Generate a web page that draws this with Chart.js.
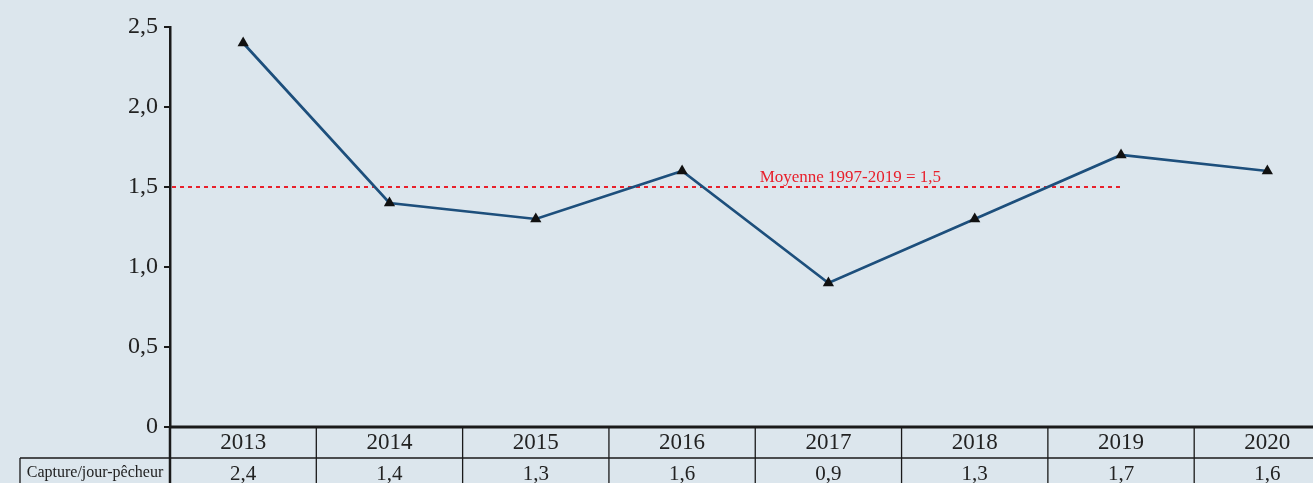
<!DOCTYPE html>
<html lang="fr">
<head>
<meta charset="utf-8">
<title>Capture par jour-pêcheur</title>
<script src="https://cdn.jsdelivr.net/npm/chart.js@4/dist/chart.umd.min.js"></script>
<style>
    html, body { margin: 0; padding: 0; background: #dce6ed; overflow: hidden; }
    #boite { width: 1347px; height: 483px; position: relative; }
</style>
</head>
<body>
<div id="boite"><canvas id="captureChart"></canvas></div>
<script>
// données
const annees = ["2013", "2014", "2015", "2016", "2017", "2018", "2019", "2020"];
const captures = [2.4, 1.4, 1.3, 1.6, 0.9, 1.3, 1.7, 1.6];
const moyenne = 1.5;
const moyenneTexte = "Moyenne 1997-2019 = 1,5";
const moyenneFin = "2019";
const ligneTableau = "Capture/jour-pêcheur";
const yMax = 2.5;
const yPas = 0.5;

const POLICE = "'Liberation Serif', 'Times New Roman', serif";

function virgule(v) {
    return v === 0 ? "0" : v.toFixed(1).replace(".", ",");
}

// ligne moyenne pointillée + texte rouge
const pluginMoyenne = {
    id: "moyenne",
    beforeDatasetsDraw(chart) {
        const ctx = chart.ctx;
        const x = chart.scales.x, y = chart.scales.y;
        const yy = y.getPixelForValue(moyenne);
        ctx.save();
        ctx.strokeStyle = "#e8202c";
        ctx.lineWidth = 2;
        ctx.setLineDash([4, 4]);
        ctx.beginPath();
        ctx.moveTo(chart.chartArea.left + 2, yy);
        ctx.lineTo(x.getPixelForValue(annees.indexOf(moyenneFin)), yy);
        ctx.stroke();
        ctx.setLineDash([]);
        ctx.fillStyle = "#e8202c";
        ctx.font = "17px " + POLICE;
        ctx.textAlign = "center";
        ctx.textBaseline = "alphabetic";
        ctx.fillText(moyenneTexte, x.getPixelForValue(4.15), yy - 5);
        ctx.restore();
    }
};

// tableau sous l'axe des x
const pluginTableau = {
    id: "tableau",
    afterDraw(chart) {
        const ctx = chart.ctx;
        const x = chart.scales.x;
        const area = chart.chartArea;
        const bas = chart.height;
        const pas = x.getPixelForValue(1) - x.getPixelForValue(0);
        const ligne2 = area.bottom + 31;
        ctx.save();
        ctx.strokeStyle = "#1a1a1a";

        // axe des x épais
        ctx.lineWidth = 3;
        ctx.beginPath();
        ctx.moveTo(area.left - 1, area.bottom);
        ctx.lineTo(chart.width, area.bottom);
        ctx.stroke();

        ctx.lineWidth = 1.3;
        ctx.beginPath();
        ctx.moveTo(20, ligne2);
        ctx.lineTo(chart.width, ligne2);
        ctx.moveTo(20, ligne2);
        ctx.lineTo(20, bas);
        annees.forEach((a, i) => {
            const bord = x.getPixelForValue(i) + pas / 2;
            ctx.moveTo(bord, area.bottom);
            ctx.lineTo(bord, bas);
        });
        ctx.stroke();

        // prolongement de l'axe y
        ctx.lineWidth = 2.5;
        ctx.beginPath();
        ctx.moveTo(area.left, area.bottom);
        ctx.lineTo(area.left, bas);
        ctx.stroke();

        ctx.fillStyle = "#222";
        ctx.textAlign = "center";
        ctx.textBaseline = "middle";
        ctx.font = "23px " + POLICE;
        annees.forEach((a, i) => {
            ctx.fillText(a, x.getPixelForValue(i), area.bottom + 16);
        });
        ctx.font = "21px " + POLICE;
        captures.forEach((v, i) => {
            ctx.fillText(virgule(v), x.getPixelForValue(i), ligne2 + 16);
        });
        ctx.font = "16px " + POLICE;
        ctx.fillText(ligneTableau, (20 + area.left) / 2, ligne2 + 15);
        ctx.restore();
    }
};

new Chart(document.getElementById("captureChart"), {
    type: "line",
    data: {
        labels: annees,
        datasets: [{
            label: ligneTableau,
            data: captures,
            borderColor: "#1d4f7c",
            borderWidth: 2.7,
            tension: 0,
            pointStyle: "triangle",
            pointRadius: 6.5,
            pointBackgroundColor: "#111",
            pointBorderColor: "#111",
            pointBorderWidth: 0
        }]
    },
    options: {
        responsive: true,
        maintainAspectRatio: false,
        animation: false,
        layout: { padding: { top: 27, bottom: 56, left: 0, right: 0 } },
        plugins: { legend: { display: false }, tooltip: { enabled: false } },
        scales: {
            x: { display: false, offset: true },
            y: {
                min: 0, max: yMax,
                afterFit(scale) { scale.width = 170; },
                ticks: {
                    stepSize: yPas,
                    color: "#222",
                    padding: 6,
                    font: { family: POLICE, size: 24 },
                    callback: v => virgule(v)
                },
                grid: { drawOnChartArea: false, drawTicks: true, tickLength: 6, color: "#1a1a1a", lineWidth: 2 },
                border: { display: true, color: "#1a1a1a", width: 2.5 }
            }
        }
    },
    plugins: [pluginMoyenne, pluginTableau]
});
</script>
</body>
</html>
